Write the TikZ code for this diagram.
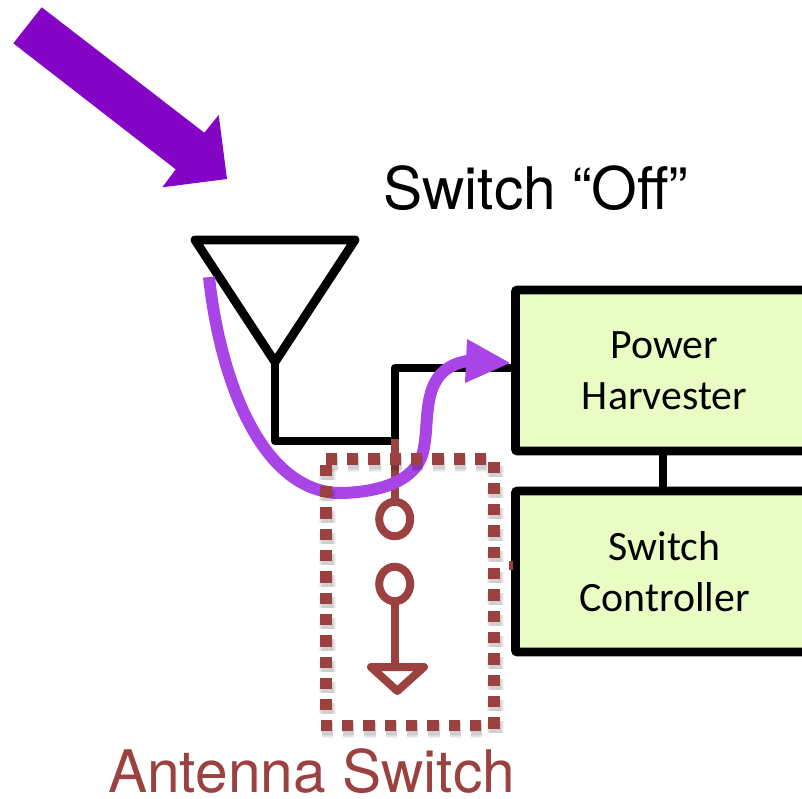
\documentclass[tikz,border=0pt]{standalone}
\usepackage{fontspec}
\setmainfont{TeX Gyre Heros}
\newfontfamily\blockfont{Carlito}
\usetikzlibrary{shapes.geometric}
\definecolor{sigpurple}{HTML}{8505C6}
\definecolor{flowpurple}{HTML}{A945E6}
\definecolor{brick}{HTML}{9B4140}
\definecolor{boxgreen}{HTML}{E9FCC4}
\tikzset{
  x=1pt,y=-1pt,
  wire/.style={draw=black,line width=8.8pt,line join=round},
  block/.style={draw=black,fill=boxgreen,line width=8.8pt,rounded corners=2pt,minimum width=298pt,align=center,font=\blockfont\fontsize{41.8}{51}\selectfont,inner sep=0pt},
  switchline/.style={draw=brick,line width=8pt},
  contact/.style={draw=brick,line width=8pt,ellipse,inner sep=0pt,outer sep=0pt,minimum width=31pt,minimum height=34.5pt},
  dotbase/.style={dash pattern=on 11.2pt off 10.13pt},
  dots/.style={dotbase,draw=brick,line width=11.5pt},
  dotshade/.style={dotbase,draw=black,draw opacity=0.05},
  label/.style={anchor=base west,inner sep=0pt,font=\fontsize{58.7}{60}\selectfont},
}
\begin{document}
\begin{tikzpicture}
\useasboundingbox (0,0) rectangle (802,799);
\clip (0,0) rectangle (802,799);
% incident arrow
\fill[sigpurple] (41.7,7.3) -- (204.3,132.7) -- (218.7,115) -- (227,179) -- (162.3,187.3) -- (175.7,169.3) -- (13.3,43.3) -- cycle;
% labels
\node[label] (offlabel) at (383,210) {Switch “Off”};
\node[label,text=brick] (swlabel) at (108,792) {Antenna Switch};
% blocks
\node[block,minimum height=161pt] (harv) at (664.5,370.5) {Power\\Harvester};
\node[block,minimum height=161pt] (ctrl) at (664.5,571.5) {Switch\\Controller};
\draw[wire] ([xshift=-1.5pt]harv.south) -- ([xshift=-1.5pt]ctrl.north);
% antenna and feed
\coordinate (tl) at (195,240);
\coordinate (tr) at (355,240);
\coordinate (tip) at (275,362);
\coordinate (foot) at (275,441);
\coordinate (jct) at (395,441);
\coordinate (top) at (395,368);
\draw[wire] (tl) -- (tr) -- (tip) -- cycle;
\draw[wire] (tip) -- (foot) -- (jct) -- (top) -- (top -| harv.west);
% brick tick behind block
\fill[brick] (509,561) rectangle (513,570);
% switch
\node[contact] (c1) at (394.7,519) {};
\node[contact] (c2) at (394.7,584) {};
\coordinate (swtop) at (394.7,439);
\coordinate (gnd) at (394.7,667);
\draw[switchline] (swtop) -- (c1.north);
\draw[switchline] (c2.south) -- (gnd);
\draw[brick,line width=8pt,line join=round] (371,667) -- (424,667) -- (397.3,691) -- cycle;
% harvested power flow
\coordinate (fstart) at (209,277);
\coordinate (fend) at (467,361);
\draw[draw=flowpurple,line width=12pt] (fstart) .. controls (220,380) and (262,494) .. (342,493)
  .. controls (382,492) and (416,480) .. (423,452)
  .. controls (431,420) and (418,370) .. (fend);
\fill[flowpurple] (467,339) -- (510,363) -- (465,383) -- cycle;
% dotted switch frame
\begin{scope}[shift={(1,4)}]
\foreach \w in {11,13,15,17}{
\draw[dotshade,line width=\w pt] (326,464.7) -- (326,710);
\draw[dotshade,line width=\w pt] (320.7,725.7) -- (490,725.7);
\draw[dotshade,line width=\w pt] (494,461.5) -- (494,730);
\draw[dotshade,line width=\w pt] (325.7,459) -- (490,459);
}
\end{scope}
\draw[dots] (326,464.7) -- (326,710);
\draw[dots] (320.7,725.7) -- (490,725.7);
\draw[dots] (494,461.5) -- (494,730);
\draw[dots] (325.7,459) -- (490,459);
\end{tikzpicture}
\end{document}
